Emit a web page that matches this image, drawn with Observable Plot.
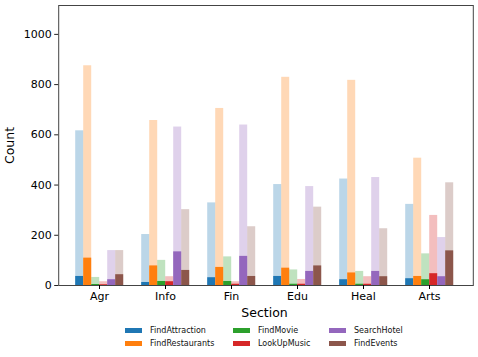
<!DOCTYPE html>
<html>
<head>
<meta charset="utf-8">
<script src="https://cdn.jsdelivr.net/npm/d3@7"></script>
<script src="https://cdn.jsdelivr.net/npm/@observablehq/plot@0.6"></script>
<style>
  body { margin: 0; background: #fff; font-family: "DejaVu Sans", sans-serif; }
  #chart { width: 478px; }
  .legend { position: relative; width: 478px; height: 37px; font-size: 8px; color: #111; }
  .legend .item { position: absolute; display: flex; align-items: center; height: 10px; }
  .legend .sw { width: 17px; height: 5px; margin-right: 8px; }
</style>
</head>
<body>
<div id="chart"></div>
<script>
const sections = ["Agr", "Info", "Fin", "Edu", "Heal", "Arts"];
const series = ["FindAttraction", "FindRestaurants", "FindMovie", "LookUpMusic", "SearchHotel", "FindEvents"];
const colors = ["#1f77b4", "#ff7f0e", "#2ca02c", "#d62728", "#9467bd", "#8c564b"];
const yTicks = [0, 200, 400, 600, 800, 1000];

// Light (total) bars per series, across sections
const totalFindAttraction = [616, 203, 329, 402, 424, 323];
const totalFindRestaurants = [875, 657, 705, 829, 817, 507];
const totalFindMovie = [32, 100, 114, 62, 56, 126];
const totalLookUpMusic = [15, 35, 15, 24, 35, 279];
const totalSearchHotel = [139, 631, 639, 394, 430, 191];
const totalFindEvents = [139, 302, 234, 312, 226, 409];

// Dark (subset) bars per series, across sections
const partFindAttraction = [36, 12, 31, 36, 23, 27];
const partFindRestaurants = [109, 78, 72, 69, 50, 36];
const partFindMovie = [4, 16, 16, 5, 5, 23];
const partLookUpMusic = [3, 15, 5, 5, 5, 47];
const partSearchHotel = [23, 134, 116, 56, 56, 35];
const partFindEvents = [43, 60, 36, 78, 35, 138];

const totals = [totalFindAttraction, totalFindRestaurants, totalFindMovie, totalLookUpMusic, totalSearchHotel, totalFindEvents];
const parts = [partFindAttraction, partFindRestaurants, partFindMovie, partLookUpMusic, partSearchHotel, partFindEvents];

const rows = [];
series.forEach((s, i) => sections.forEach((sec, j) => {
  rows.push({section: sec, series: s, total: totals[i][j], part: parts[i][j]});
}));

const plot = Plot.plot({
  width: 478,
  height: 320,
  marginLeft: 64.8,
  marginRight: 14.8,
  marginTop: 5,
  marginBottom: 35,
  style: {fontFamily: "DejaVu Sans, sans-serif", fontSize: "12.5px", color: "#000", background: "#fff"},
  fx: {domain: sections, paddingInner: 0, paddingOuter: 0, axis: null},
  x: {domain: series, paddingInner: 0, paddingOuter: 1, axis: null},
  y: {domain: [0, 1115], axis: null},
  color: {domain: series, range: colors},
  marks: [
    Plot.barY(rows, {fx: "section", x: "series", y: "total", fill: "series", fillOpacity: 0.3}),
    Plot.barY(rows, {fx: "section", x: "series", y: "part", fill: "series"}),
    Plot.frame({facetAnchor: "left", stroke: "#444", insetLeft: -7.8, insetRight: -340.8}),
    Plot.axisY({ticks: yTicks, tickFormat: d => String(d), tickSize: 4, tickPadding: 3, fontSize: 11, dx: -7.8,
      label: null, stroke: "#222"}),
    Plot.axisY({ticks: [], label: "Count", labelAnchor: "center", labelOffset: 61, labelArrow: "none"}),
    Plot.axisFx({anchor: "bottom", tickSize: 4, tickPadding: 3, fontSize: 11, label: null}),
    Plot.axisFx({anchor: "bottom", ticks: [], tickSize: 0, label: "Section", labelAnchor: "center", labelOffset: 31, labelArrow: "none"})
  ]
});
document.getElementById("chart").appendChild(plot);

// Legend below the chart
const legend = d3.select("body").append("div").attr("class", "legend");
const colX = [125, 233, 329];
const rowY = [5, 18];
series.forEach((s, i) => {
  const col = Math.floor(i / 2), row = i % 2;
  const item = legend.append("div").attr("class", "item")
    .style("left", colX[col] + "px").style("top", rowY[row] + "px");
  item.append("div").attr("class", "sw").style("background", colors[i]);
  item.append("span").text(s);
});
</script>
</body>
</html>
